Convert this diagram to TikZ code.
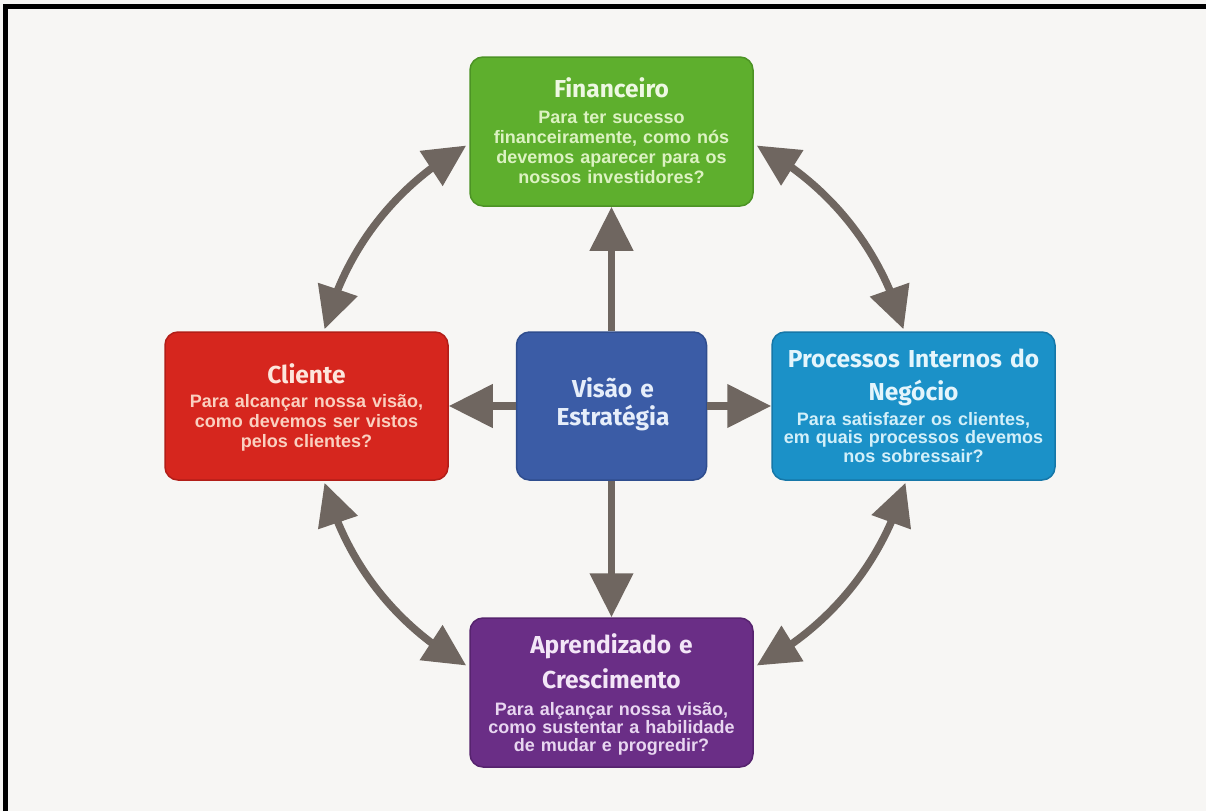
\documentclass[tikz,border=0pt]{standalone}
\usepackage{fontspec}
\newfontfamily\titlef{Fira Sans}
\newfontfamily\bodyf{Liberation Sans}
\usetikzlibrary{arrows.meta,bending}
\definecolor{bg}{HTML}{F7F6F4}
\definecolor{arrowc}{HTML}{6F6660}
\definecolor{fing}{HTML}{5EAF2D}
\definecolor{fingd}{HTML}{4C9324}
\definecolor{clir}{HTML}{D6261E}
\definecolor{clird}{HTML}{B21E18}
\definecolor{visb}{HTML}{3B5CA6}
\definecolor{visbd}{HTML}{2F4D8E}
\definecolor{proc}{HTML}{1B91C8}
\definecolor{procd}{HTML}{1677A8}
\definecolor{aprp}{HTML}{6A2E86}
\definecolor{aprpd}{HTML}{56236E}
\definecolor{finT}{HTML}{EEF8E2}
\definecolor{finB}{HTML}{DCF2C2}
\definecolor{cliT}{HTML}{FDE6DC}
\definecolor{cliB}{HTML}{FAD0C0}
\definecolor{visT}{HTML}{E6EEFA}
\definecolor{proT}{HTML}{E4F5FC}
\definecolor{proB}{HTML}{D2EFF9}
\definecolor{aprT}{HTML}{F3E6F7}
\definecolor{aprB}{HTML}{E8D6F0}
\tikzset{
  box/.style={draw, line width=1.5pt, rounded corners=13pt, minimum width=283pt, minimum height=148pt, inner sep=0pt},
  ttl/.style={anchor=base, align=center, text width=280pt, inner sep=0pt, font=\titlef\bfseries\fontsize{24.5}{33}\selectfont},
  bdy/.style={anchor=base, align=center, text width=280pt, inner sep=0pt, font=\bodyf\bfseries\fontsize{18}{20}\selectfont},
  conn/.style={line width=7.5pt, draw=arrowc, -{Triangle[length=44pt,width=42pt]}},
  dconn/.style={line width=7.5pt, draw=arrowc, {Triangle[length=42pt,width=40pt]}-{Triangle[length=42pt,width=40pt]}}
}
\begin{document}
\begin{tikzpicture}[x=1pt,y=-1pt]
\fill[bg] (0,0) rectangle (1206,811);
\useasboundingbox (0,0) rectangle (1206,811);
\draw[line width=5pt] (5,811) -- (5,6) -- (1206,6);
% boxes
\node[box, fill=fing, draw=fingd, minimum height=149pt] (fin) at (611.5,131.5) {};
\node[box, fill=clir, draw=clird] (cli) at (306.5,406) {};
\node[box, fill=visb, draw=visbd, minimum width=190pt] (vis) at (611.5,406) {};
\node[box, fill=proc, draw=procd] (pro) at (913.5,406) {};
\node[box, fill=aprp, draw=aprpd, minimum height=149pt] (apr) at (611.5,692.5) {};
% texts
\node[ttl, text=finT] (finT) at (611.5,97) {Financeiro};
\node[bdy, text=finB] (finB) at (611.5,123) {Para ter sucesso\\financeiramente, como nós\\devemos aparecer para os\\nossos investidores?};
\node[ttl, text=cliT] (cliT) at (306.5,383) {Cliente};
\node[bdy, text=cliB] (cliB) at (306.5,407) {Para alcançar nossa visão,\\como devemos ser vistos\\pelos clientes?};
\node[ttl, text=visT, font=\titlef\bfseries\fontsize{24.5}{28}\selectfont] (visT) at (613,397) {Visão e\\Estratégia};
\node[ttl, text=proT] (proT) at (913.5,367) {Processos Internos do\\Negócio};
\node[bdy, text=proB, font=\bodyf\bfseries\fontsize{18}{18.5}\selectfont] (proB) at (913.5,425) {Para satisfazer os clientes,\\em quais processos devemos\\nos sobressair?};
\node[ttl, text=aprT, font=\titlef\bfseries\fontsize{24.5}{35}\selectfont] (aprT) at (611.5,653) {Aprendizado e\\Crescimento};
\node[bdy, text=aprB, font=\bodyf\bfseries\fontsize{18}{18}\selectfont] (aprB) at (611.5,715) {Para alçançar nossa visão,\\como sustentar a habilidade\\de mudar e progredir?};
% straight arrows
\draw[conn] (vis.north) -- (fin.south);
\draw[conn] (vis.south) -- (apr.north);
\draw[conn] (vis.west) -- (cli.east);
\draw[conn] (vis.east) -- (pro.west);
% curved double arrows
\draw[dconn] ([xshift=-3pt,yshift=-14pt]fin.west) to[bend right=23, looseness=0.9] ([xshift=18pt,yshift=2pt]cli.north);
\draw[dconn] ([xshift=3pt,yshift=-14pt]fin.east) to[bend left=23, looseness=0.9] ([xshift=-10pt,yshift=2pt]pro.north);
\draw[dconn] ([xshift=18pt,yshift=-2pt]cli.south) to[bend right=23, looseness=0.9] ([xshift=-3pt,yshift=27pt]apr.west);
\draw[dconn] ([xshift=-8pt,yshift=-2pt]pro.south) to[bend left=23, looseness=0.9] ([xshift=3pt,yshift=27pt]apr.east);
\end{tikzpicture}
\end{document}
